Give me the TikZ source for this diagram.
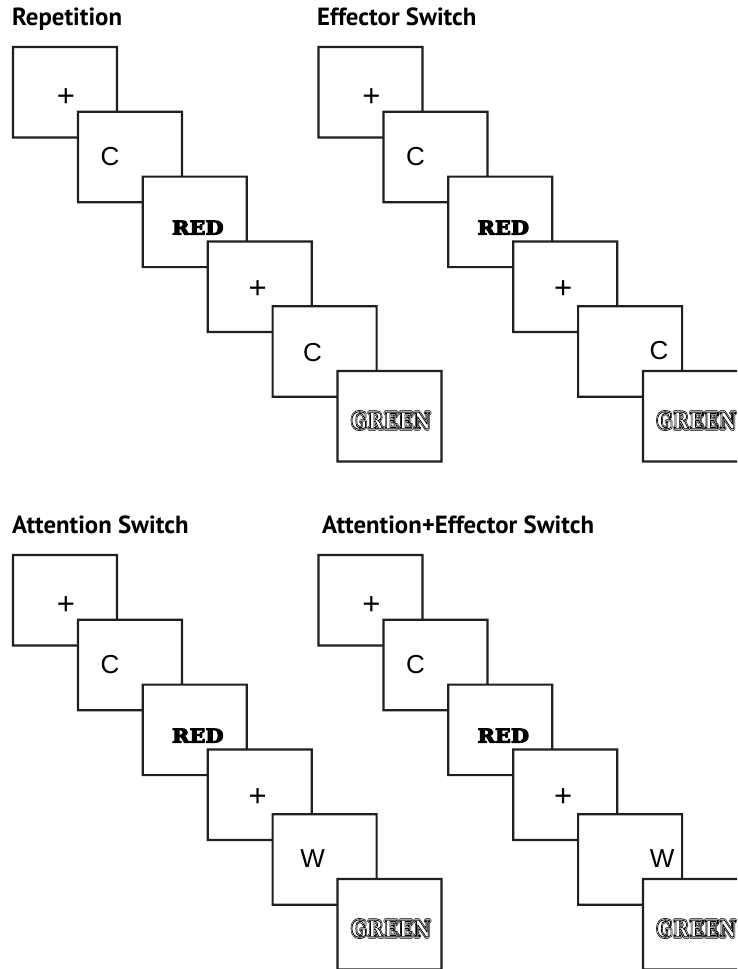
\documentclass[tikz,border=0pt]{standalone}
\usepackage{fontspec}
\setmainfont{Liberation Sans}
\newfontfamily\titlefont{PT Sans}
\newfontfamily\redfont{DejaVu Serif}
\newfontfamily\greenfont{DejaVu Serif}[LetterSpace=5]
\newcommand\heavy[1]{%
  \special{pdf:literal direct 2 Tr 1.1 w 1 j}#1\special{pdf:literal direct 0 Tr 2.3 w}}
\newcommand\outl[1]{%
  \leavevmode\rlap{\special{pdf:literal direct 1 Tr 3.4 w 1 j 0 G}#1}%
  \rlap{\special{pdf:literal direct 1 Tr 1.9 w 1 G}#1}%
  {\special{pdf:literal direct 2 Tr 0.9 w 0 G 1 g}#1}%
  \special{pdf:literal direct 0 Tr 0 g 0 G 2.3 w}}
\tikzset{
  box/.style={draw=none, fill=white, minimum width=104pt,
    minimum height=90.5pt, inner sep=0pt, outer sep=0pt, anchor=north west},
  frame/.style={fill=black!88, even odd rule},
  lab/.style={inner sep=0pt, font=\fontsize{26}{26}\selectfont},
  pluslab/.style={inner sep=0pt, font=\fontsize{31}{31}\selectfont},
  redlab/.style={inner sep=0pt, font=\redfont\bfseries\fontsize{19}{19}\selectfont},
  greenlab/.style={inner sep=0pt, font=\greenfont\bfseries\fontsize{23}{23}\selectfont},
  ttl/.style={inner sep=0pt, anchor=base west, font=\titlefont\bfseries\fontsize{24.8}{24.8}\selectfont},
}
\newcommand\tbox[3]{%
  \node[box] (#1) at (#2,#3) {};
  \fill[frame] ([shift={(-1.1,-1.1)}]#1.north west) rectangle ([shift={(1.1,1.1)}]#1.south east)
               ([shift={(1.1,1.1)}]#1.north west) rectangle ([shift={(-1.1,-1.1)}]#1.south east);
}
\newcommand\trialpanel[6]{%
  \tbox{#1a}{#2}{#3}
  \tbox{#1b}{#2+64.9}{#3+64.8}
  \tbox{#1c}{#2+2*64.9}{#3+2*64.8}
  \tbox{#1d}{#2+3*64.9}{#3+3*64.8}
  \tbox{#1e}{#2+4*64.9}{#3+4*64.8}
  \tbox{#1f}{#2+5*64.9}{#3+5*64.8}
  \node[pluslab] (#1at) at ([shift={(53,51)}]#1a.north west) {+};
  \node[lab] (#1bt) at ([shift={(32,45)}]#1b.north west) {C};
  \node[redlab] (#1ct) at ([shift={(55,51)}]#1c.north west) {\scalebox{1.1}[1]{\heavy{RED}}};
  \node[pluslab] (#1dt) at ([shift={(50,48)}]#1d.north west) {+};
  \node[lab] (#1et) at ([shift={(#5,#6)}]#1e.north west) {#4};
  \node[greenlab] (#1ft) at ([shift={(53.5,49.5)}]#1f.north west) {\scalebox{0.8}[1]{\outl{GREEN}}};
}
\begin{document}
\begin{tikzpicture}[x=1pt,y=-1pt]
  \clip (0,0) rectangle (737,969);
  \fill[white] (0,0) rectangle (737,969);
  \node[ttl] (t1) at (12,25) {Repetition};
  \node[ttl] (t2) at (317,25) {Effector Switch};
  \node[ttl] (t3) at (12,533) {Attention Switch};
  \node[ttl] (t4) at (322,533) {Attention+Effector Switch};
  \trialpanel{p}{13}{47}{C}{40}{46}
  \trialpanel{q}{318.5}{47}{C}{81}{44.5}
  \trialpanel{r}{13}{555}{W}{40}{44}
  \trialpanel{s}{318.5}{555}{W}{84}{44}
\end{tikzpicture}
\end{document}
